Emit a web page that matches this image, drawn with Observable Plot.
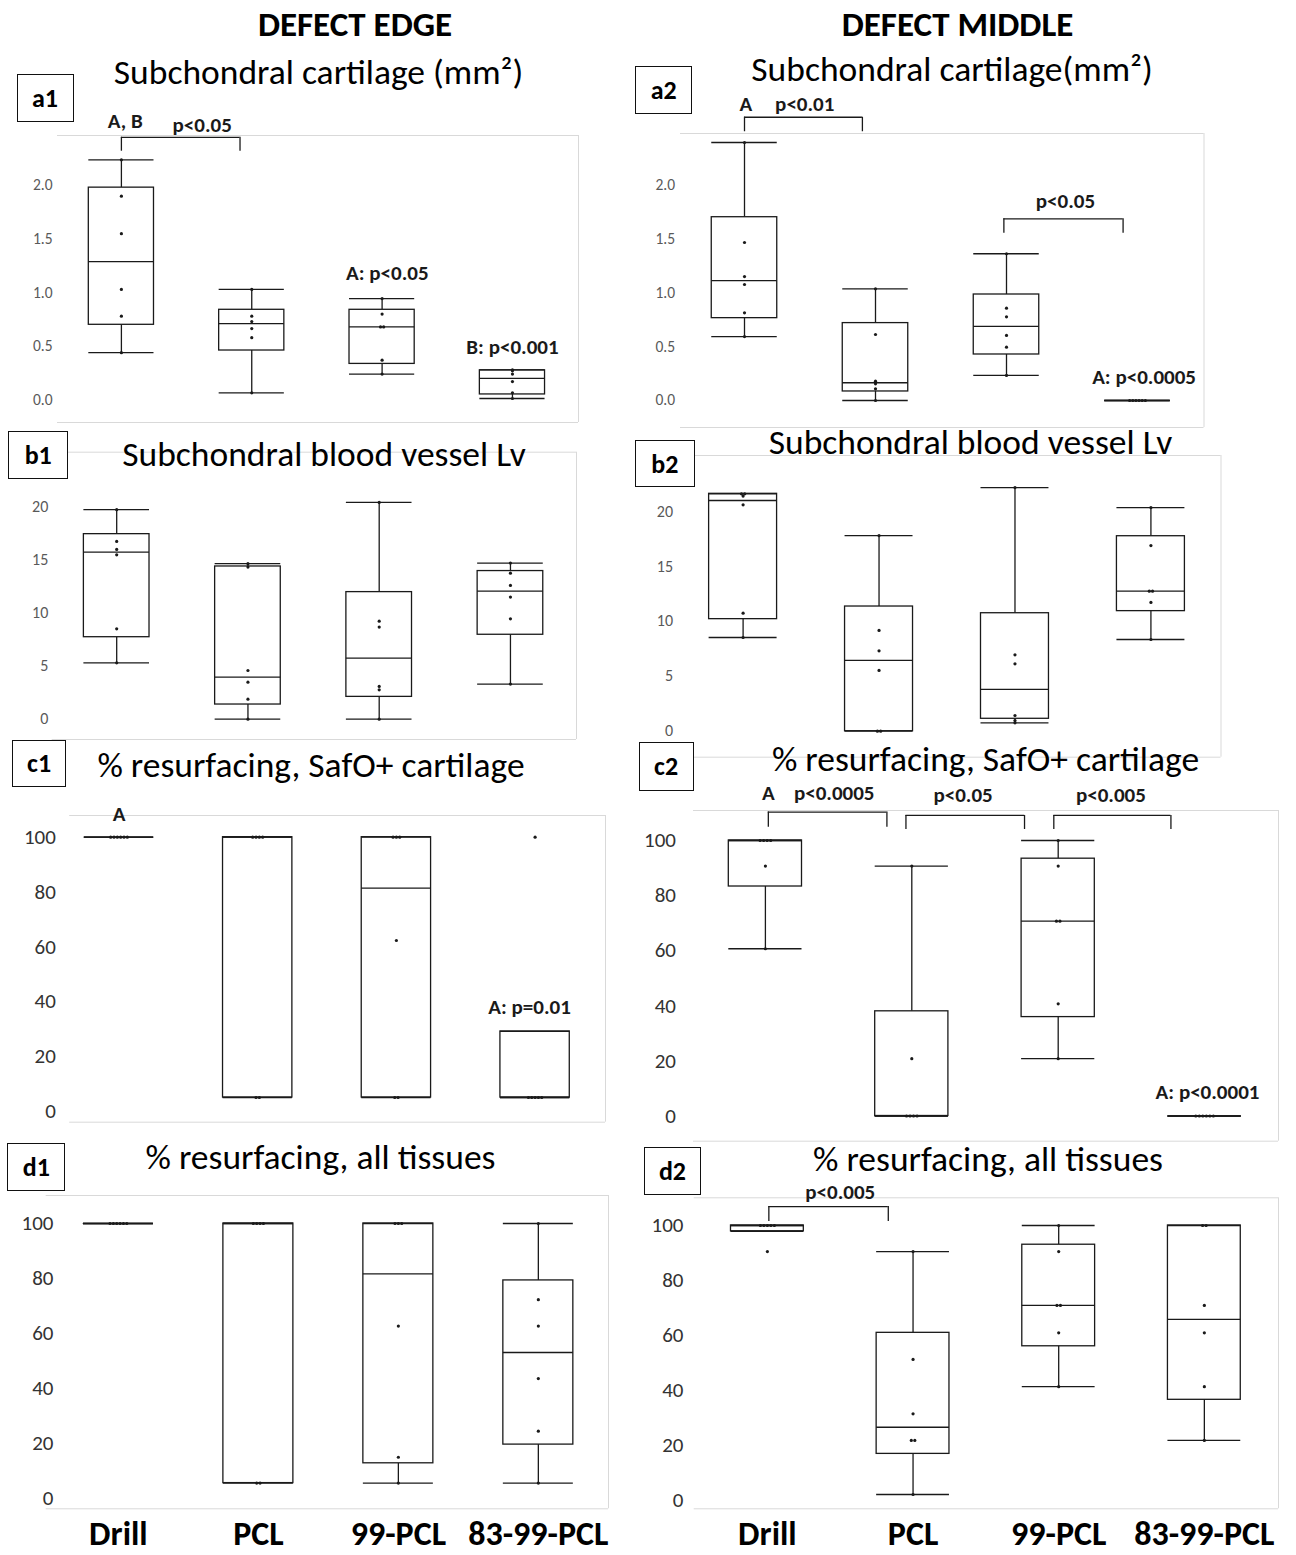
<!DOCTYPE html>
<html>
<head>
<meta charset="utf-8">
<script src="https://cdn.jsdelivr.net/npm/d3@7"></script>
<script src="https://cdn.jsdelivr.net/npm/@observablehq/plot@0.6"></script>
<style>
  body { margin: 0; background: #fff; }
  #fig { position: relative; width: 1296px; height: 1555px; overflow: hidden; font-family: Carlito, Lato, sans-serif; color: #000; }
  .t { position: absolute; transform: translate(-50%, -50%); white-space: nowrap; line-height: 1; }
  .hdr { font-weight: bold; font-size: 35px; }
  .ttl { font-size: 35.5px; }
  .lab { position: absolute; border: 1.3px solid #111; box-sizing: border-box; display: flex; align-items: center; justify-content: center; font-weight: bold; font-size: 26px; background: #fff; }
  .pl { position: absolute; }
</style>
</head>
<body>
<div id="fig"></div>
<script>
// ---------- data ----------
const groups = ["Drill", "PCL", "99-PCL", "83-99-PCL"];

// box statistics per group: [min, q1, median, q3, max]
const a1Box = [[0.44, 0.70, 1.29, 1.98, 2.24], [0.065, 0.46, 0.71, 0.84, 1.03], [0.24, 0.335, 0.68, 0.84, 0.945], [0.012, 0.05, 0.20, 0.275, 0.28]];
const a1Pts = [[2.24, 1.90, 1.55, 1.03, 0.78, 0.44], [1.03, 0.78, 0.73, 0.665, 0.58, 0.065], [0.945, 0.80, 0.68, 0.68, 0.37, 0.24], [0.28, 0.27, 0.24, 0.17, 0.065, 0.012]];

const a2Box = [[0.595, 0.766, 1.116, 1.705, 2.40], [0, 0.084, 0.165, 0.72, 1.039], [0.233, 0.428, 0.69, 0.986, 1.365], [0, 0, 0, 0, 0]];
const a2Pts = [[2.40, 1.47, 1.153, 1.079, 0.816, 0.595], [1.039, 0.614, 0.18, 0.155, 0.109, 0], [1.365, 0.859, 0.778, 0.605, 0.496, 0.233], [0, 0, 0, 0, 0, 0]];

const b1Box = [[5.30, 7.71, 15.71, 17.40, 19.70], [0, 1.38, 3.95, 14.36, 14.62], [0, 2.10, 5.74, 11.95, 20.38], [3.30, 7.94, 12.05, 13.93, 14.68]];
const b1Pts = [[19.70, 16.72, 15.96, 15.46, 8.50, 5.30], [14.62, 14.30, 4.58, 3.48, 1.88, 0], [20.38, 9.22, 8.66, 3.08, 2.76, 0], [14.68, 13.73, 12.58, 11.48, 9.44, 3.30]];

const b2Box = [[8.53, 10.20, 21.0, 21.61, 21.61], [0, 0, 6.44, 11.35, 17.81], [0.76, 1.13, 3.80, 10.74, 22.18], [8.35, 10.93, 12.75, 17.75, 20.36]];
const b2Pts = [[21.61, 21.61, 21.4, 20.61, 10.74, 8.53], [17.81, 9.17, 7.32, 5.53, 0, 0], [22.18, 6.95, 6.13, 1.43, 0.97, 0.76], [20.36, 16.90, 12.75, 12.75, 11.72, 8.35]];

const c1Box = [[100, 100, 100, 100, 100], [5, 5, 100, 100, 100], [5, 5, 81.4, 100, 100], [5, 5, 5, 29.1, 29.1]];
const c1Pts = [[100, 100, 100, 100, 100, 100], [100, 100, 100, 100, 5, 5], [100, 100, 100, 62.3, 5, 5], [100, 5, 5, 5, 5, 5]];

const c2Box = [[60.7, 83.3, 100, 100, 100], [0, 0, 0, 38.0, 90.7], [20.8, 35.9, 70.7, 93.4, 100], [0, 0, 0, 0, 0]];
const c2Pts = [[100, 100, 100, 100, 90.7, 60.7], [90.7, 20.8, 0, 0, 0, 0], [100, 90.7, 70.7, 70.7, 40.7, 20.8], [0, 0, 0, 0, 0, 0]];

const d1Box = [[100, 100, 100, 100, 100], [5.6, 5.6, 100, 100, 100], [5.6, 12.8, 81.7, 100, 100], [5.6, 19.6, 53.1, 79.3, 100]];
const d1Pts = [[100, 100, 100, 100, 100, 100], [100, 100, 100, 100, 5.6, 5.6], [100, 100, 100, 62.7, 15.0, 5.6], [100, 72.3, 62.7, 43.6, 24.5, 5.6]];

const d2Box = [[97.9, 97.9, 100, 100, 100], [2.0, 16.8, 26.5, 60.9, 90.5], [41.3, 56.0, 70.9, 93.0, 100], [21.7, 36.5, 65.8, 100, 100]];
const d2Pts = [[100, 100, 100, 100, 100, 90.5], [90.5, 51.2, 31.4, 21.7, 21.7, 2.0], [100, 90.5, 70.9, 70.9, 60.9, 41.3], [100, 100, 70.9, 60.9, 41.3, 21.7]];

// significance annotations (x in group-index units, y in data units)
const a1Notes = [{x: 0.03, y: 2.60, label: "A, B"}, {x: 0.62, y: 2.56, label: "p<0.05"}, {x: 2.04, y: 1.18, label: "A: p<0.05"}, {x: 3.0, y: 0.49, label: "B: p<0.001"}];
const a1Brackets = [{x1: 0, x2: 0.91, top: 2.45, end: 2.32}];
const a2Notes = [{x: 0.01, y: 2.755, label: "A"}, {x: 0.46, y: 2.755, label: "p<0.01"}, {x: 2.45, y: 1.85, label: "p<0.05"}, {x: 3.05, y: 0.217, label: "A: p<0.0005"}];
const a2Brackets = [{x1: 0, x2: 0.90, top: 2.635, end: 2.50}, {x1: 1.98, x2: 2.89, top: 1.69, end: 1.556}];
const c1Notes = [{x: 0, y: 108.3, label: "A"}, {x: 2.96, y: 38.0, label: "A: p=0.01"}];
const c2Notes = [{x: 0.02, y: 117.1, label: "A"}, {x: 0.47, y: 117.1, label: "p<0.0005"}, {x: 1.35, y: 116.3, label: "p<0.05"}, {x: 2.36, y: 116.3, label: "p<0.005"}, {x: 3.02, y: 8.6, label: "A: p<0.0001"}];
const c2Brackets = [{x1: 0.02, x2: 0.83, top: 110.3, end: 104.8}, {x1: 0.96, x2: 1.77, top: 109.1, end: 104.0}, {x1: 1.97, x2: 2.77, top: 109.1, end: 104.0}];
const d2Notes = [{x: 0.50, y: 112.0, label: "p<0.005"}];
const d2Brackets = [{x1: 0.01, x2: 0.83, top: 106.9, end: 101.5}];

const ticksMM = [0, 0.5, 1, 1.5, 2];
const ticksLv = [0, 5, 10, 15, 20];
const ticksPct = [0, 20, 40, 60, 80, 100];

// ---------- layout (page pixels) ----------
const FONT = "Carlito, Lato, sans-serif";
const INK = "#1a1a1a";
const panels = [
  {id: "a1", box: a1Box, pts: a1Pts, notes: a1Notes, brackets: a1Brackets, ticks: ticksMM, fmt: ".1f",
   left: 0, top: 95, width: 630, height: 335, frame: [57, 578, 135, 422], c0: 120.9, step: 130.35, zero: 399.3, unit: 107.15, labelRight: 52, fs: 15.5, tc: "#595959",
   title: "Subchondral cartilage (mm²)", tx: 318.5, ty: 73, lab: [16.5, 74, 73.5, 121.7]},
  {id: "a2", box: a2Box, pts: a2Pts, notes: a2Notes, brackets: a2Brackets, ticks: ticksMM, fmt: ".1f",
   left: 630, top: 90, width: 666, height: 340, frame: [680, 1203.5, 133, 427], c0: 744, step: 131, zero: 400, unit: 107.5, labelRight: 674.6, fs: 15.5, tc: "#595959",
   title: "Subchondral cartilage(mm²)", tx: 952, ty: 70, lab: [635, 66, 692.4, 114]},
  {id: "b1", box: b1Box, pts: b1Pts, notes: [], brackets: [], ticks: ticksLv, fmt: "d",
   left: 0, top: 440, width: 630, height: 305, frame: [51.7, 576, 451.7, 739], c0: 116.2, step: 131.25, zero: 718.7, unit: 10.635, labelRight: 47.8, fs: 16, tc: "#595959",
   title: "Subchondral blood vessel Lv", tx: 324, ty: 455, lab: [8.4, 430.7, 68.1, 479.3]},
  {id: "b2", box: b2Box, pts: b2Pts, notes: [], brackets: [], ticks: ticksLv, fmt: "d",
   left: 630, top: 440, width: 666, height: 322, frame: [674.6, 1220.5, 455, 756.7], c0: 742.6, step: 135.94, zero: 730.7, unit: 10.985, labelRight: 672.5, fs: 16, tc: "#595959",
   title: "Subchondral blood vessel Lv", tx: 970.5, ty: 443, lab: [635, 440, 694.6, 487.3]},
  {id: "c1", box: c1Box, pts: c1Pts, notes: c1Notes, brackets: [], ticks: ticksPct, fmt: "d",
   left: 0, top: 790, width: 630, height: 335, frame: [69.2, 605, 815, 1121.7], c0: 118.5, step: 138.7, zero: 1110.7, unit: 2.74, labelRight: 55.4, fs: 21, tc: "#333",
   title: "% resurfacing, SafO+ cartilage", tx: 311, ty: 766, lab: [11.9, 740, 66.4, 786.7]},
  {id: "c2", box: c2Box, pts: c2Pts, notes: c2Notes, brackets: c2Brackets, ticks: ticksPct, fmt: "d",
   left: 630, top: 780, width: 666, height: 365, frame: [693, 1278, 810, 1140.7], c0: 764.9, step: 146.4, zero: 1115.5, unit: 2.755, labelRight: 675.5, fs: 21, tc: "#333",
   title: "% resurfacing, SafO+ cartilage", tx: 985.5, ty: 760, lab: [638.5, 741.7, 693.7, 790.7]},
  {id: "d1", box: d1Box, pts: d1Pts, notes: [], brackets: [], ticks: ticksPct, fmt: "d", xaxis: true,
   left: 0, top: 1175, width: 630, height: 378, frame: [45.7, 608, 1195, 1508.3], c0: 117.9, step: 139.98, zero: 1498, unit: 2.75, labelRight: 53, fs: 21, tc: "#333",
   title: "% resurfacing, all tissues", tx: 320.5, ty: 1158, lab: [7.3, 1142.7, 65.3, 1191]},
  {id: "d2", box: d2Box, pts: d2Pts, notes: d2Notes, brackets: d2Brackets, ticks: ticksPct, fmt: "d", xaxis: true,
   left: 630, top: 1175, width: 666, height: 378, frame: [693.7, 1278, 1197.3, 1508.3], c0: 766.9, step: 145.65, zero: 1499.5, unit: 2.745, labelRight: 683, fs: 21, tc: "#333",
   title: "% resurfacing, all tissues", tx: 988, ty: 1160, lab: [643.6, 1146.7, 701.4, 1195]}
];

const fig = document.getElementById("fig");

function addText(cls, text, cx, cy) {
  const d = document.createElement("div");
  d.className = "t " + cls;
  d.textContent = text;
  d.style.left = cx + "px";
  d.style.top = cy + "px";
  fig.appendChild(d);
}

// spread duplicated points side by side, as in the original inner-point display
function spread(pts) {
  const out = [];
  pts.forEach((vals, i) => {
    const counts = d3.rollup(vals, v => v.length, v => v);
    const seen = new Map();
    vals.forEach(v => {
      const n = counts.get(v), k = seen.get(v) || 0;
      seen.set(v, k + 1);
      out.push({x: i + (k - (n - 1) / 2) * 0.024, y: v});
    });
  });
  return out;
}

const HW = 0.25; // half box width in group units

for (const P of panels) {
  const ml = P.frame[0] - P.left, mr = P.left + P.width - P.frame[1];
  const mt = P.frame[2] - P.top, mb = P.top + P.height - P.frame[3];
  const ymax = P.ticks[P.ticks.length - 1];
  const rows = P.box.map((s, i) => ({i, min: s[0], q1: s[1], med: s[2], q3: s[3], max: s[4]}));
  const yTop = (P.zero - P.frame[2]) / P.unit, yBot = (P.zero - P.frame[3]) / P.unit;
  const xRight = (P.frame[1] - P.c0) / P.step;
  const line = {stroke: INK, strokeWidth: 1.3};
  const marks = [
    Plot.ruleY([yTop, yBot], {stroke: "#d9d9d9", strokeWidth: 1}),
    Plot.ruleX([xRight], {stroke: "#d9d9d9", strokeWidth: 1}),
    Plot.axisY(P.ticks, {anchor: "left", tickSize: 0, tickPadding: P.frame[0] - P.labelRight, tickFormat: d3.format(P.fmt), fontSize: P.fs, color: P.tc, fontFamily: FONT, label: null}),
    Plot.ruleX(rows, {x: "i", y1: "q3", y2: "max", ...line}),
    Plot.ruleX(rows, {x: "i", y1: "min", y2: "q1", ...line}),
    Plot.rect(rows, {x1: d => d.i - HW, x2: d => d.i + HW, y1: "q1", y2: "q3", fill: "white", ...line}),
    Plot.ruleY(rows, {x1: d => d.i - HW, x2: d => d.i + HW, y: "med", ...line}),
    Plot.ruleY(rows, {x1: d => d.i - HW, x2: d => d.i + HW, y: "max", ...line}),
    Plot.ruleY(rows, {x1: d => d.i - HW, x2: d => d.i + HW, y: "min", ...line}),
    Plot.dot(spread(P.pts), {x: "x", y: "y", r: 1.6, fill: INK, stroke: null}),
    Plot.ruleY(P.brackets, {x1: "x1", x2: "x2", y: "top", stroke: INK, strokeWidth: 1.3}),
    Plot.ruleX(P.brackets, {x: "x1", y1: "end", y2: "top", stroke: INK, strokeWidth: 1.3}),
    Plot.ruleX(P.brackets, {x: "x2", y1: "end", y2: "top", stroke: INK, strokeWidth: 1.3}),
    Plot.text(P.notes, {x: "x", y: "y", text: "label", fontWeight: "bold", fontSize: 21, fill: INK, fontFamily: FONT})
  ];
  if (P.xaxis) {
    marks.push(Plot.axisX([0, 1, 2, 3], {anchor: "bottom", tickSize: 0, tickPadding: 12, tickFormat: i => groups[i], fontSize: 34, fontWeight: "bold", color: "#000", fontFamily: FONT, label: null}));
  }
  const svg = Plot.plot({
    width: P.width, height: P.height,
    marginLeft: ml, marginRight: mr, marginTop: mt, marginBottom: mb,
    style: {background: "transparent", overflow: "visible", fontFamily: FONT},
    x: {type: "linear", domain: [-0.5, 3.5], range: [P.c0 - P.step / 2 - P.left, P.c0 + 3.5 * P.step - P.left], axis: null},
    y: {type: "linear", domain: [0, ymax], range: [P.zero - P.top, P.zero - ymax * P.unit - P.top], axis: null},
    marks
  });
  svg.classList.add("pl");
  svg.style.left = P.left + "px";
  svg.style.top = P.top + "px";
  fig.appendChild(svg);

  addText("ttl", P.title, P.tx, P.ty);
  const lb = document.createElement("div");
  lb.className = "lab";
  lb.textContent = P.id;
  lb.style.left = P.lab[0] + "px";
  lb.style.top = P.lab[1] + "px";
  lb.style.width = (P.lab[2] - P.lab[0]) + "px";
  lb.style.height = (P.lab[3] - P.lab[1]) + "px";
  fig.appendChild(lb);
}

addText("hdr", "DEFECT EDGE", 355, 24);
addText("hdr", "DEFECT MIDDLE", 957.5, 24);
</script>
</body>
</html>
